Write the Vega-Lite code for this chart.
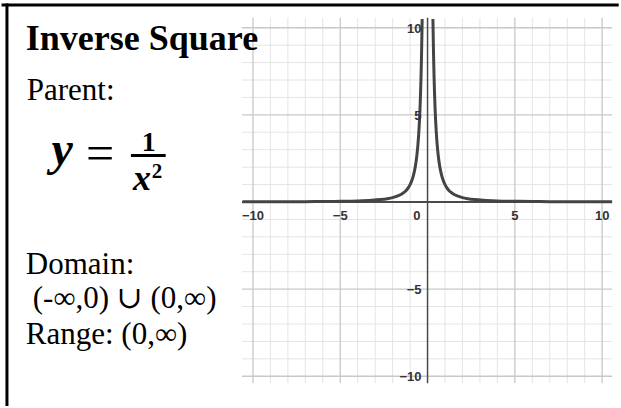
{
  "$schema": "https://vega.github.io/schema/vega-lite/v6.json",
  "width": 621,
  "height": 408,
  "padding": 0,
  "autosize": {"type": "fit", "contains": "padding"},
  "background": "white",
  "config": {"view": {"stroke": null}},
  "datasets": {
    "minor": [{"v": -9}, {"v": -8}, {"v": -7}, {"v": -6}, {"v": -4}, {"v": -3}, {"v": -2}, {"v": -1}, {"v": 1}, {"v": 2}, {"v": 3}, {"v": 4}, {"v": 6}, {"v": 7}, {"v": 8}, {"v": 9}],
    "major": [{"v": -10}, {"v": -5}, {"v": 5}, {"v": 10}],
    "labels": [{"v": -10, "label": "−10"}, {"v": -5, "label": "−5"}, {"v": 5, "label": "5"}, {"v": 10, "label": "10"}],
    "curve": [
      {"x": -10.6, "y": 0.0089, "branch": "L"},
      {"x": -10, "y": 0.01, "branch": "L"},
      {"x": -9, "y": 0.0123, "branch": "L"},
      {"x": -8, "y": 0.0156, "branch": "L"},
      {"x": -7, "y": 0.0204, "branch": "L"},
      {"x": -6, "y": 0.0278, "branch": "L"},
      {"x": -5, "y": 0.04, "branch": "L"},
      {"x": -4, "y": 0.0625, "branch": "L"},
      {"x": -3.2, "y": 0.0977, "branch": "L"},
      {"x": -2.7, "y": 0.137, "branch": "L"},
      {"x": -2.3, "y": 0.189, "branch": "L"},
      {"x": -2.0, "y": 0.25, "branch": "L"},
      {"x": -1.7, "y": 0.346, "branch": "L"},
      {"x": -1.5, "y": 0.444, "branch": "L"},
      {"x": -1.35, "y": 0.549, "branch": "L"},
      {"x": -1.2, "y": 0.694, "branch": "L"},
      {"x": -1.1, "y": 0.826, "branch": "L"},
      {"x": -1.0, "y": 1.0, "branch": "L"},
      {"x": -0.9, "y": 1.235, "branch": "L"},
      {"x": -0.8, "y": 1.5625, "branch": "L"},
      {"x": -0.7, "y": 2.041, "branch": "L"},
      {"x": -0.65, "y": 2.367, "branch": "L"},
      {"x": -0.6, "y": 2.778, "branch": "L"},
      {"x": -0.55, "y": 3.306, "branch": "L"},
      {"x": -0.5, "y": 4.0, "branch": "L"},
      {"x": -0.46, "y": 4.726, "branch": "L"},
      {"x": -0.43, "y": 5.408, "branch": "L"},
      {"x": -0.4, "y": 6.25, "branch": "L"},
      {"x": -0.38, "y": 6.925, "branch": "L"},
      {"x": -0.36, "y": 7.716, "branch": "L"},
      {"x": -0.34, "y": 8.651, "branch": "L"},
      {"x": -0.32, "y": 9.766, "branch": "L"},
      {"x": -0.3086, "y": 10.5, "branch": "L"},
      {"x": 0.3086, "y": 10.5, "branch": "R"},
      {"x": 0.32, "y": 9.766, "branch": "R"},
      {"x": 0.34, "y": 8.651, "branch": "R"},
      {"x": 0.36, "y": 7.716, "branch": "R"},
      {"x": 0.38, "y": 6.925, "branch": "R"},
      {"x": 0.4, "y": 6.25, "branch": "R"},
      {"x": 0.43, "y": 5.408, "branch": "R"},
      {"x": 0.46, "y": 4.726, "branch": "R"},
      {"x": 0.5, "y": 4.0, "branch": "R"},
      {"x": 0.55, "y": 3.306, "branch": "R"},
      {"x": 0.6, "y": 2.778, "branch": "R"},
      {"x": 0.65, "y": 2.367, "branch": "R"},
      {"x": 0.7, "y": 2.041, "branch": "R"},
      {"x": 0.8, "y": 1.5625, "branch": "R"},
      {"x": 0.9, "y": 1.235, "branch": "R"},
      {"x": 1.0, "y": 1.0, "branch": "R"},
      {"x": 1.1, "y": 0.826, "branch": "R"},
      {"x": 1.2, "y": 0.694, "branch": "R"},
      {"x": 1.35, "y": 0.549, "branch": "R"},
      {"x": 1.5, "y": 0.444, "branch": "R"},
      {"x": 1.7, "y": 0.346, "branch": "R"},
      {"x": 2.0, "y": 0.25, "branch": "R"},
      {"x": 2.3, "y": 0.189, "branch": "R"},
      {"x": 2.7, "y": 0.137, "branch": "R"},
      {"x": 3.2, "y": 0.0977, "branch": "R"},
      {"x": 4, "y": 0.0625, "branch": "R"},
      {"x": 5, "y": 0.04, "branch": "R"},
      {"x": 6, "y": 0.0278, "branch": "R"},
      {"x": 7, "y": 0.0204, "branch": "R"},
      {"x": 8, "y": 0.0156, "branch": "R"},
      {"x": 9, "y": 0.0123, "branch": "R"},
      {"x": 10, "y": 0.01, "branch": "R"},
      {"x": 10.57, "y": 0.009, "branch": "R"}
    ]
  },
  "layer": [
    {
      "data": {"name": "minor"},
      "mark": {"type": "rule", "color": "#e4e4e4", "strokeWidth": 1},
      "encoding": {
        "x": {"field": "v", "type": "quantitative", "scale": {"domain": [-24.375, 10.909], "nice": false, "zero": false}, "axis": null},
        "y": {"datum": -10.4, "type": "quantitative", "scale": {"domain": [-11.591, 11.591], "nice": false, "zero": false}, "axis": null},
        "y2": {"datum": 10.57}
      }
    },
    {
      "data": {"name": "minor"},
      "mark": {"type": "rule", "color": "#e4e4e4", "strokeWidth": 1},
      "encoding": {
        "y": {"field": "v", "type": "quantitative", "scale": {"domain": [-11.591, 11.591], "nice": false, "zero": false}, "axis": null},
        "x": {"datum": -10.63, "type": "quantitative", "scale": {"domain": [-24.375, 10.909], "nice": false, "zero": false}, "axis": null},
        "x2": {"datum": 10.57}
      }
    },
    {
      "data": {"name": "major"},
      "mark": {"type": "rule", "color": "#c8c8c8", "strokeWidth": 1.3},
      "encoding": {
        "x": {"field": "v", "type": "quantitative", "scale": {"domain": [-24.375, 10.909], "nice": false, "zero": false}, "axis": null},
        "y": {"datum": -10.4, "type": "quantitative", "scale": {"domain": [-11.591, 11.591], "nice": false, "zero": false}, "axis": null},
        "y2": {"datum": 10.57}
      }
    },
    {
      "data": {"name": "major"},
      "mark": {"type": "rule", "color": "#c8c8c8", "strokeWidth": 1.3},
      "encoding": {
        "y": {"field": "v", "type": "quantitative", "scale": {"domain": [-11.591, 11.591], "nice": false, "zero": false}, "axis": null},
        "x": {"datum": -10.63, "type": "quantitative", "scale": {"domain": [-24.375, 10.909], "nice": false, "zero": false}, "axis": null},
        "x2": {"datum": 10.57}
      }
    },
    {
      "data": {"values": [{}]},
      "mark": {"type": "rule", "color": "#4a4a4a", "strokeWidth": 2},
      "encoding": {
        "y": {"datum": 0, "type": "quantitative", "scale": {"domain": [-11.591, 11.591], "nice": false, "zero": false}, "axis": null},
        "x": {"datum": -10.63, "type": "quantitative", "scale": {"domain": [-24.375, 10.909], "nice": false, "zero": false}, "axis": null},
        "x2": {"datum": 10.57}
      }
    },
    {
      "data": {"values": [{}]},
      "mark": {"type": "rule", "color": "#4a4a4a", "strokeWidth": 1.5},
      "encoding": {
        "x": {"datum": 0, "type": "quantitative", "scale": {"domain": [-24.375, 10.909], "nice": false, "zero": false}, "axis": null},
        "y": {"datum": -10.4, "type": "quantitative", "scale": {"domain": [-11.591, 11.591], "nice": false, "zero": false}, "axis": null},
        "y2": {"datum": 10.57}
      }
    },
    {
      "data": {"name": "curve"},
      "mark": {"type": "line", "color": "#444444", "strokeWidth": 3, "interpolate": "monotone"},
      "encoding": {
        "x": {"field": "x", "type": "quantitative", "scale": {"domain": [-24.375, 10.909], "nice": false, "zero": false}, "axis": null},
        "y": {"field": "y", "type": "quantitative", "scale": {"domain": [-11.591, 11.591], "nice": false, "zero": false}, "axis": null},
        "detail": {"field": "branch"}
      }
    },
    {
      "data": {"name": "labels"},
      "mark": {"type": "text", "font": "Liberation Sans", "fontWeight": "bold", "fontSize": 13, "color": "#333333", "align": "center", "baseline": "alphabetic", "dy": 18},
      "encoding": {
        "x": {"field": "v", "type": "quantitative", "scale": {"domain": [-24.375, 10.909], "nice": false, "zero": false}, "axis": null},
        "y": {"datum": 0, "type": "quantitative", "scale": {"domain": [-11.591, 11.591], "nice": false, "zero": false}, "axis": null},
        "text": {"field": "label"}
      }
    },
    {
      "data": {"values": [{"label": "0"}]},
      "mark": {"type": "text", "font": "Liberation Sans", "fontWeight": "bold", "fontSize": 13, "color": "#333333", "align": "right", "baseline": "alphabetic", "dx": -7, "dy": 18},
      "encoding": {
        "x": {"datum": 0, "type": "quantitative", "scale": {"domain": [-24.375, 10.909], "nice": false, "zero": false}, "axis": null},
        "y": {"datum": 0, "type": "quantitative", "scale": {"domain": [-11.591, 11.591], "nice": false, "zero": false}, "axis": null},
        "text": {"field": "label"}
      }
    },
    {
      "data": {"name": "labels"},
      "mark": {"type": "text", "font": "Liberation Sans", "fontWeight": "bold", "fontSize": 13, "color": "#333333", "align": "right", "baseline": "middle", "dx": -6, "dy": 1},
      "encoding": {
        "y": {"field": "v", "type": "quantitative", "scale": {"domain": [-11.591, 11.591], "nice": false, "zero": false}, "axis": null},
        "x": {"datum": 0, "type": "quantitative", "scale": {"domain": [-24.375, 10.909], "nice": false, "zero": false}, "axis": null},
        "text": {"field": "label"}
      }
    },
    {
      "data": {"values": [{"t": "Inverse Square"}]},
      "mark": {"type": "text", "font": "Liberation Serif", "fontWeight": "bold", "fontSize": 36, "color": "#000000", "align": "left", "baseline": "alphabetic"},
      "encoding": {
        "x": {"datum": -23.011, "type": "quantitative", "scale": {"domain": [-24.375, 10.909], "nice": false, "zero": false}, "axis": null},
        "y": {"datum": 8.75, "type": "quantitative", "scale": {"domain": [-11.591, 11.591], "nice": false, "zero": false}, "axis": null},
        "text": {"field": "t"}
      }
    },
    {
      "data": {"values": [{"t": "Parent:"}]},
      "mark": {"type": "text", "font": "Liberation Serif", "fontSize": 31, "color": "#000000", "align": "left", "baseline": "alphabetic"},
      "encoding": {
        "x": {"datum": -22.955, "type": "quantitative", "scale": {"domain": [-24.375, 10.909], "nice": false, "zero": false}, "axis": null},
        "y": {"datum": 5.852, "type": "quantitative", "scale": {"domain": [-11.591, 11.591], "nice": false, "zero": false}, "axis": null},
        "text": {"field": "t"}
      }
    },
    {
      "data": {"values": [{"t": "Domain:"}]},
      "mark": {"type": "text", "font": "Liberation Serif", "fontSize": 31, "color": "#000000", "align": "left", "baseline": "alphabetic"},
      "encoding": {
        "x": {"datum": -23.011, "type": "quantitative", "scale": {"domain": [-24.375, 10.909], "nice": false, "zero": false}, "axis": null},
        "y": {"datum": -4.148, "type": "quantitative", "scale": {"domain": [-11.591, 11.591], "nice": false, "zero": false}, "axis": null},
        "text": {"field": "t"}
      }
    },
    {
      "data": {"values": [{"t": "(-∞,0) ∪ (0,∞)"}]},
      "mark": {"type": "text", "font": "Liberation Serif, DejaVu Serif", "fontSize": 31, "color": "#000000", "align": "left", "baseline": "alphabetic"},
      "encoding": {
        "x": {"datum": -22.614, "type": "quantitative", "scale": {"domain": [-24.375, 10.909], "nice": false, "zero": false}, "axis": null},
        "y": {"datum": -6.08, "type": "quantitative", "scale": {"domain": [-11.591, 11.591], "nice": false, "zero": false}, "axis": null},
        "text": {"field": "t"}
      }
    },
    {
      "data": {"values": [{"t": "Range: (0,∞)"}]},
      "mark": {"type": "text", "font": "Liberation Serif, DejaVu Serif", "fontSize": 31, "color": "#000000", "align": "left", "baseline": "alphabetic"},
      "encoding": {
        "x": {"datum": -23.011, "type": "quantitative", "scale": {"domain": [-24.375, 10.909], "nice": false, "zero": false}, "axis": null},
        "y": {"datum": -8.125, "type": "quantitative", "scale": {"domain": [-11.591, 11.591], "nice": false, "zero": false}, "axis": null},
        "text": {"field": "t"}
      }
    },
    {
      "data": {"values": [{"t": "y"}]},
      "mark": {"type": "text", "font": "Liberation Serif", "fontWeight": "bold", "fontStyle": "italic", "fontSize": 48, "color": "#000000", "align": "left", "baseline": "alphabetic"},
      "encoding": {
        "x": {"datum": -21.534, "type": "quantitative", "scale": {"domain": [-24.375, 10.909], "nice": false, "zero": false}, "axis": null},
        "y": {"datum": 2.102, "type": "quantitative", "scale": {"domain": [-11.591, 11.591], "nice": false, "zero": false}, "axis": null},
        "text": {"field": "t"}
      }
    },
    {
      "data": {"values": [{"t": "="}]},
      "mark": {"type": "text", "font": "Liberation Serif", "fontSize": 50, "color": "#000000", "align": "center", "baseline": "alphabetic"},
      "encoding": {
        "x": {"datum": -18.75, "type": "quantitative", "scale": {"domain": [-24.375, 10.909], "nice": false, "zero": false}, "axis": null},
        "y": {"datum": 1.818, "type": "quantitative", "scale": {"domain": [-11.591, 11.591], "nice": false, "zero": false}, "axis": null},
        "text": {"field": "t"}
      }
    },
    {
      "data": {"values": [{"t": "1"}]},
      "mark": {"type": "text", "font": "Liberation Serif", "fontWeight": "bold", "fontSize": 28, "color": "#000000", "align": "center", "baseline": "alphabetic"},
      "encoding": {
        "x": {"datum": -15.966, "type": "quantitative", "scale": {"domain": [-24.375, 10.909], "nice": false, "zero": false}, "axis": null},
        "y": {"datum": 2.898, "type": "quantitative", "scale": {"domain": [-11.591, 11.591], "nice": false, "zero": false}, "axis": null},
        "text": {"field": "t"}
      }
    },
    {
      "data": {"values": [{}]},
      "mark": {"type": "rule", "color": "#000000", "strokeWidth": 3},
      "encoding": {
        "x": {"datum": -16.989, "type": "quantitative", "scale": {"domain": [-24.375, 10.909], "nice": false, "zero": false}, "axis": null},
        "x2": {"datum": -15.0},
        "y": {"datum": 2.67, "type": "quantitative", "scale": {"domain": [-11.591, 11.591], "nice": false, "zero": false}, "axis": null}
      }
    },
    {
      "data": {"values": [{"t": "x"}]},
      "mark": {"type": "text", "font": "Liberation Serif", "fontWeight": "bold", "fontStyle": "italic", "fontSize": 36, "color": "#000000", "align": "left", "baseline": "alphabetic"},
      "encoding": {
        "x": {"datum": -16.875, "type": "quantitative", "scale": {"domain": [-24.375, 10.909], "nice": false, "zero": false}, "axis": null},
        "y": {"datum": 0.682, "type": "quantitative", "scale": {"domain": [-11.591, 11.591], "nice": false, "zero": false}, "axis": null},
        "text": {"field": "t"}
      }
    },
    {
      "data": {"values": [{"t": "2"}]},
      "mark": {"type": "text", "font": "Liberation Serif", "fontWeight": "bold", "fontSize": 21, "color": "#000000", "align": "left", "baseline": "alphabetic"},
      "encoding": {
        "x": {"datum": -15.795, "type": "quantitative", "scale": {"domain": [-24.375, 10.909], "nice": false, "zero": false}, "axis": null},
        "y": {"datum": 1.364, "type": "quantitative", "scale": {"domain": [-11.591, 11.591], "nice": false, "zero": false}, "axis": null},
        "text": {"field": "t"}
      }
    },
    {
      "data": {"values": [{}]},
      "mark": {"type": "rule", "color": "#000000", "strokeWidth": 3},
      "encoding": {
        "x": {"datum": -24.4, "type": "quantitative", "scale": {"domain": [-24.375, 10.909], "nice": false, "zero": false}, "axis": null},
        "x2": {"datum": 10.95},
        "y": {"datum": 11.307, "type": "quantitative", "scale": {"domain": [-11.591, 11.591], "nice": false, "zero": false}, "axis": null}
      }
    },
    {
      "data": {"values": [{}]},
      "mark": {"type": "rule", "color": "#000000", "strokeWidth": 3},
      "encoding": {
        "x": {"datum": -24.091, "type": "quantitative", "scale": {"domain": [-24.375, 10.909], "nice": false, "zero": false}, "axis": null},
        "y": {"datum": 11.39, "type": "quantitative", "scale": {"domain": [-11.591, 11.591], "nice": false, "zero": false}, "axis": null},
        "y2": {"datum": -11.7}
      }
    }
  ]
}
